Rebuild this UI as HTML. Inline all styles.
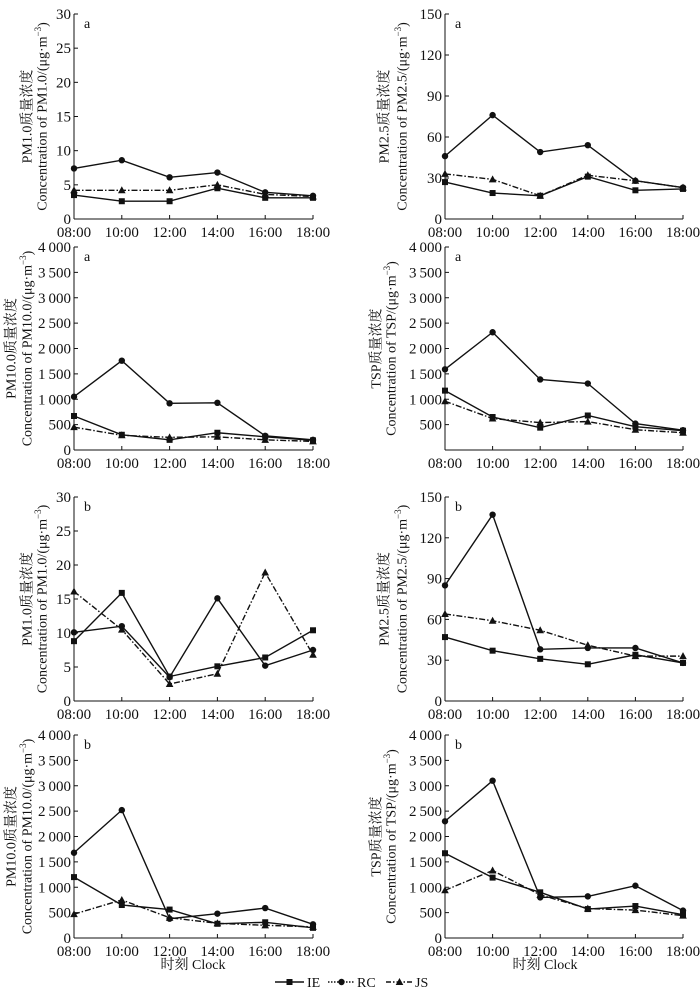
<!DOCTYPE html>
<html><head><meta charset="utf-8"><style>
body{margin:0;background:#fff}
svg text{font-family:"Liberation Serif","Noto Serif CJK SC",serif;fill:#111}
</style></head><body>
<svg id="fig" width="700" height="990" viewBox="0 0 700 990" xmlns="http://www.w3.org/2000/svg"></svg>
<script>
const times=["08:00","10:00","12:00","14:00","16:00","18:00"];
const ticksPM1=[0,5,10,15,20,25,30];
const ticksPM25=[0,30,60,90,120,150];
const ticksBig=[0,500,1000,1500,2000,2500,3000,3500,4000];
// panel a
const pm1aIE=[3.5,2.6,2.6,4.5,3.1,3.1];
const pm1aRC=[7.4,8.6,6.1,6.8,3.9,3.4];
const pm1aJS=[4.2,4.2,4.2,5.0,3.6,3.3];
const pm25aIE=[27,19,17,31,21,22];
const pm25aRC=[46,76,49,54,28,23];
const pm25aJS=[33,29,17,32,28,23];
const pm10aIE=[670,300,200,340,260,190];
const pm10aRC=[1050,1760,920,930,280,200];
const pm10aJS=[450,290,250,260,200,170];
const tspaIE=[1170,650,440,680,460,380];
const tspaRC=[1590,2320,1390,1310,520,390];
const tspaJS=[960,620,540,560,400,340];
// panel b
const pm1bIE=[8.8,15.9,3.6,5.1,6.4,10.4];
const pm1bRC=[10.1,11.0,3.5,15.1,5.2,7.5];
const pm1bJS=[16.1,10.5,2.5,4.0,18.9,6.8];
const pm25bIE=[47,37,31,27,34,28];
const pm25bRC=[85,137,38,39,39,28];
const pm25bJS=[64,59,52,41,33,33];
const pm10bIE=[1200,650,560,280,310,200];
const pm10bRC=[1680,2520,380,480,590,270];
const pm10bJS=[470,750,400,290,250,220];
const tspbIE=[1670,1190,900,570,630,460];
const tspbRC=[2300,3100,800,820,1030,540];
const tspbJS=[940,1330,850,580,550,440];

const NS="http://www.w3.org/2000/svg";
const svg=document.getElementById('fig');
function mk(tag,attrs,parent){const e=document.createElementNS(NS,tag);for(const k in attrs)e.setAttribute(k,attrs[k]);(parent||svg).appendChild(e);return e;}
function fmt(v){return v>=1000?Math.floor(v/1000)+"\u2009"+String(v%1000).padStart(3,'0'):String(v);}
function marker(g,type,x,y){
  let m;
  if(type==='sq'){m=mk('rect',{x:x-3,y:y-3,width:6,height:6,fill:'#111'},g);}
  else if(type==='ci'){m=mk('circle',{cx:x,cy:y,r:3.2,fill:'#111'},g);}
  else {m=mk('polygon',{points:`${x},${y-4} ${x-3.8},${y+3} ${x+3.8},${y+3}`,fill:'#111'},g);}
  return m;
}
function panel(p){
  const g=mk('g',{});
  
  
  const xs=i=>p.x0+(p.x1-p.x0)*i/(times.length-1);
  const ys=v=>p.y0-(p.y0-p.yt)*v/p.max;
  mk('line',{x1:p.x0,y1:p.yt,x2:p.x0,y2:p.y0,stroke:'#111','stroke-width':1},g);
  mk('line',{x1:p.x0,y1:p.y0,x2:p.x1,y2:p.y0,stroke:'#111','stroke-width':1},g);
  p.ticks.forEach(t=>{
    const y=ys(t);
    mk('line',{x1:p.x0,y1:y,x2:p.x0+4,y2:y,stroke:'#111'},g);
    if(t===0&&p.noZero)return;
    const tx=mk('text',{x:p.x0-3,y:y+5,'text-anchor':'end','font-size':15},g);
    
    
    tx.textContent=fmt(t);
  });
  times.forEach((t,i)=>{
    const x=xs(i);
    mk('line',{x1:x,y1:p.y0,x2:x,y2:p.y0-4,stroke:'#111'},g);
    const tx=mk('text',{x:x,y:p.y0+18,'text-anchor':'middle','font-size':15},g);
    
    
    tx.textContent=t;
  });
  const lt=mk('text',{x:p.x0+10,y:p.yt+14,'font-size':14},g);
  
  
  lt.textContent=p.letter;
  const cy=(p.yt+p.y0)/2;
  const t1=mk('text',{x:0,y:0,'text-anchor':'middle','dominant-baseline':'central','font-size':14,transform:`translate(${p.x0+p.c1},${cy}) rotate(-90)`},g);
  
  
  t1.textContent=p.cn;
  const t2=mk('text',{x:0,y:0,'text-anchor':'middle','dominant-baseline':'central','font-size':14,transform:`translate(${p.x0+p.c2},${cy}) rotate(-90)`},g);
  
  
  t2.innerHTML=p.en+'/(μg·m<tspan dy="-5" font-size="9">−3</tspan><tspan dy="5">)</tspan>';
  const series=[[p.IE,'sq','none','IE'],[p.RC,'ci','none','RC'],[p.JS,'tr','6 2 1.5 2','JS']];
  series.forEach(s=>{
    const pts=s[0].map((v,i)=>xs(i)+','+ys(v)).join(' ');
    const l=mk('polyline',{points:pts,fill:'none',stroke:'#111','stroke-width':1.4,'stroke-dasharray':s[2]},g);
    
    
    s[0].forEach((v,i)=>{
      const m=marker(g,s[1],xs(i),ys(v));
      
      
    });
  });
}
const L={x0:74,x1:313}, R={x0:445,x1:683};
panel({name:'pm1-a-panel',...L,yt:14,y0:219,max:30,ticks:ticksPM1,letter:'a',c1:-46,c2:-31,cn:'PM1.0质量浓度',en:'Concentration of PM1.0',IE:pm1aIE,RC:pm1aRC,JS:pm1aJS});
panel({name:'pm25-a-panel',...R,yt:14,y0:219,max:150,ticks:ticksPM25,letter:'a',c1:-60,c2:-42,cn:'PM2.5质量浓度',en:'Concentration of PM2.5',IE:pm25aIE,RC:pm25aRC,JS:pm25aJS});
panel({name:'pm10-a-panel',...L,yt:247,y0:450,max:4000,ticks:ticksBig,letter:'a',c1:-62,c2:-46,cn:'PM10.0质量浓度',en:'Concentration of PM10.0',IE:pm10aIE,RC:pm10aRC,JS:pm10aJS});
panel({name:'tsp-a-panel',...R,yt:247,y0:450,max:4000,ticks:ticksBig,letter:'a',noZero:true,c1:-68,c2:-53,cn:'TSP质量浓度',en:'Concentration of TSP',IE:tspaIE,RC:tspaRC,JS:tspaJS});
panel({name:'pm1-b-panel',...L,yt:497,y0:701,max:30,ticks:ticksPM1,letter:'b',c1:-46,c2:-31,cn:'PM1.0质量浓度',en:'Concentration of PM1.0',IE:pm1bIE,RC:pm1bRC,JS:pm1bJS});
panel({name:'pm25-b-panel',...R,yt:497,y0:701,max:150,ticks:ticksPM25,letter:'b',c1:-60,c2:-42,cn:'PM2.5质量浓度',en:'Concentration of PM2.5',IE:pm25bIE,RC:pm25bRC,JS:pm25bJS});
panel({name:'pm10-b-panel',...L,yt:735,y0:938,max:4000,ticks:ticksBig,letter:'b',c1:-62,c2:-46,cn:'PM10.0质量浓度',en:'Concentration of PM10.0',IE:pm10bIE,RC:pm10bRC,JS:pm10bJS});
panel({name:'tsp-b-panel',...R,yt:735,y0:938,max:4000,ticks:ticksBig,letter:'b',c1:-68,c2:-53,cn:'TSP质量浓度',en:'Concentration of TSP',IE:tspbIE,RC:tspbRC,JS:tspbJS});
[[193,'x-axis-title-left'],[545,'x-axis-title-right']].forEach(a=>{
  const t=mk('text',{x:a[0],y:969,'text-anchor':'middle','font-size':14});
  
  
  t.textContent='时刻 Clock';
});
const lg=mk('g',{});


[[275,304,'sq','none','IE',307],[328,355,'ci','1.5 1.5','RC',357],[386,413,'tr','5 2 1.5 2','JS',415]].forEach(e=>{
  mk('line',{x1:e[0],y1:982,x2:e[1],y2:982,stroke:'#111','stroke-width':1.4,'stroke-dasharray':e[3]},lg);
  marker(lg,e[2],(e[0]+e[1])/2,982);
  const t=mk('text',{x:e[5],y:987,'font-size':14},lg);
  
  
  t.textContent=e[4];
});
</script>
</body></html>
